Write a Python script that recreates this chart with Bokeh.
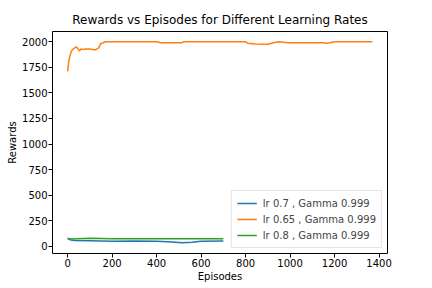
from bokeh.plotting import figure
from bokeh.models import FixedTicker, Range1d, Legend, LegendItem
from bokeh.embed import file_html
from bokeh.resources import INLINE

ep_07 = [0, 10, 30, 100, 200, 300, 400, 450, 515, 560, 600, 700]
rw_07 = [75, 65, 58, 55, 50, 52, 50, 45, 36, 40, 50, 52]

ep_065 = [0, 5, 10, 17, 25, 32, 38, 45, 53, 60, 70, 80, 100, 125, 140, 148, 160, 170, 200, 300, 400, 418,
          515, 520, 800, 810, 845, 900, 925, 950, 990, 1150, 1163, 1180, 1200, 1370]
rw_065 = [1710, 1800, 1860, 1908, 1930, 1940, 1950, 1935, 1908, 1930, 1925, 1930, 1928, 1920, 1940, 1980, 1990,
          2000, 2000, 2000, 2000, 1990, 1990, 2000, 2000, 1985, 1978, 1975, 1990, 2000, 1990, 1990, 1985, 1990,
          2000, 2000]

ep_08 = [0, 10, 50, 100, 200, 300, 400, 500, 600, 700]
rw_08 = [80, 72, 75, 78, 74, 74, 75, 74, 73, 73]

labels = ["lr 0.7 , Gamma 0.999", "lr 0.65 , Gamma 0.999", "lr 0.8 , Gamma 0.999"]
colors = ["#1f77b4", "#ff7f0e", "#2ca02c"]
x_ticks = [0, 200, 400, 600, 800, 1000, 1200, 1400]
y_ticks = [0, 250, 500, 750, 1000, 1250, 1500, 1750, 2000]

p = figure(frame_width=335, frame_height=222, output_backend="svg", toolbar_location=None,
           x_range=Range1d(-68, 1438), y_range=Range1d(-70, 2100),
           title="Rewards vs Episodes for Different Learning Rates",
           min_border_left=52, min_border_right=28, min_border_top=31, min_border_bottom=8)

r1 = p.line(ep_07, rw_07, line_color=colors[0], line_width=1.5)
r2 = p.line(ep_065, rw_065, line_color=colors[1], line_width=1.5)
r3 = p.line(ep_08, rw_08, line_color=colors[2], line_width=1.5)

font = "DejaVu Sans"
p.title.text_font = font
p.title.text_font_size = "12px"
p.title.text_font_style = "normal"
p.title.align = "center"
p.title.text_color = "black"

for ax, lab, ticks in ((p.xaxis, "Episodes", x_ticks), (p.yaxis, "Rewards", y_ticks)):
    ax.axis_label = lab
    ax.axis_label_text_font = font
    ax.axis_label_text_font_size = "10px"
    ax.axis_label_text_font_style = "normal"
    ax.axis_label_text_color = "black"
    ax.axis_label_standoff = 1
    ax.major_label_text_font = font
    ax.major_label_text_font_size = "10px"
    ax.major_label_text_color = "black"
    ax.ticker = FixedTicker(ticks=ticks)
    ax.minor_tick_line_color = None
    ax.major_tick_out = 4
    ax.major_tick_in = 0
    ax.major_label_standoff = 1
    ax.axis_line_color = None
    ax.major_tick_line_color = "black"

p.xgrid.grid_line_color = None
p.ygrid.grid_line_color = None
p.outline_line_color = "black"
p.outline_line_width = 1

legend = Legend(items=[LegendItem(label=labels[0], renderers=[r1]),
                       LegendItem(label=labels[1], renderers=[r2]),
                       LegendItem(label=labels[2], renderers=[r3])],
                location="bottom_right")
legend.label_text_font = font
legend.label_text_font_size = "10px"
legend.glyph_width = 20
legend.glyph_height = 14
legend.label_height = 14
legend.spacing = 2
legend.padding = 5
legend.margin = 5
legend.label_standoff = 6
legend.border_line_color = "#cccccc"
legend.background_fill_alpha = 0.8
p.add_layout(legend)

open("out.html", "w").write(file_html(p, INLINE))
